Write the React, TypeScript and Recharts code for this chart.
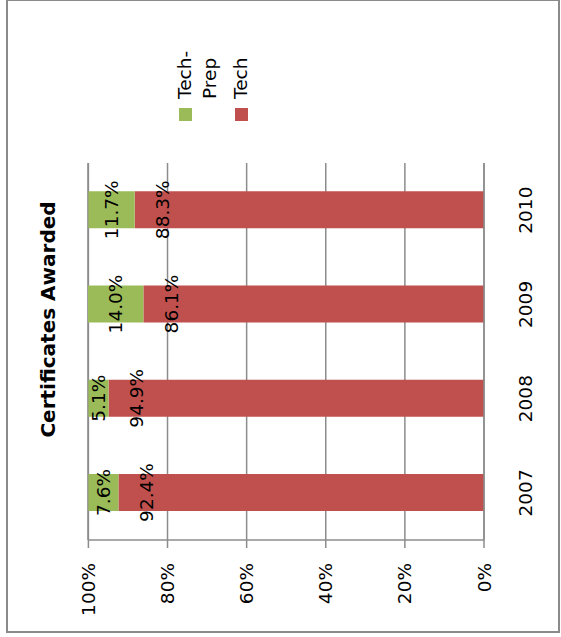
import React from 'react';
import { Bar, BarChart, CartesianGrid, LabelList, Legend, XAxis, YAxis } from 'recharts';

const years = ['2007', '2008', '2009', '2010'];
const techPrep = [7.6, 5.1, 14.0, 11.7];
const tech = [92.4, 94.9, 86.1, 88.3];
const valueTicks = [0, 20, 40, 60, 80, 100];
const seriesNames = ['Tech-Prep', 'Tech'];
const seriesColors = ['#9BBB59', '#C0504D'];

const FONT = "'DejaVu Sans', Verdana, sans-serif";
const GRID = '#8c8c8c';

const data = years.map((year, i) => ({
  year,
  techPrep: techPrep[i],
  tech: tech[i],
}));

const pct = (v: any) => `${Number(v).toFixed(1)}%`;

const renderLegend = () => (
  <div style={{ fontFamily: FONT, fontSize: 18.5, lineHeight: '25px', color: '#000' }}>
    {seriesNames.map((name, i) => (
      <div key={name} style={{ display: 'flex', alignItems: 'flex-start', marginTop: i ? 6 : 0 }}>
        <span
          style={{ width: 13, height: 13, background: seriesColors[i], marginTop: 7, marginRight: 9, flex: 'none' }}
        />
        <span style={{ whiteSpace: 'pre-line' }}>{name.replace('-', '-\n')}</span>
      </div>
    ))}
  </div>
);

export default function App() {
  return (
    <div style={{ position: 'fixed', left: 0, top: 0, width: 561, height: 637, background: '#fff', overflow: 'hidden' }}>
      {/* chart is drawn upright, then turned a quarter turn counter-clockwise */}
      <div
        style={{
          position: 'absolute',
          left: 0,
          top: 0,
          width: 637,
          height: 561,
          transformOrigin: '0 0',
          transform: 'translate(0px, 637px) rotate(-90deg)',
        }}
      >
        <div
          style={{
            position: 'absolute',
            left: 0,
            top: 38,
            width: 635,
            textAlign: 'center',
            fontFamily: FONT,
            fontWeight: 'bold',
            fontSize: 20,
            lineHeight: '20px',
            color: '#000',
          }}
        >
          Certificates Awarded
        </div>
        <BarChart
          width={637}
          height={561}
          data={data}
          margin={{ top: 88, right: 163, bottom: 0, left: 0 }}
          barSize={37}
        >
          <CartesianGrid vertical={false} stroke={GRID} strokeWidth={1.5} />
          <XAxis
            dataKey="year"
            height={77}
            tickLine={false}
            tickSize={0}
            tickMargin={35}
            axisLine={{ stroke: GRID, strokeWidth: 1.5 }}
            tick={{ fill: '#000', fontSize: 18.5, fontFamily: FONT }}
          />
          <YAxis
            width={97}
            domain={[0, 100]}
            ticks={valueTicks}
            tickFormatter={(v) => `${v}%`}
            tickSize={8}
            tickMargin={15}
            axisLine={{ stroke: GRID, strokeWidth: 1.5 }}
            tickLine={{ stroke: GRID, strokeWidth: 1.5 }}
            tick={{ fill: '#000', fontSize: 18.5, fontFamily: FONT }}
            interval={0}
          />
          <Legend
            layout="horizontal"
            verticalAlign="middle"
            align="center"
            wrapperStyle={{ left: 516, top: 172, width: 115, height: 80, margin: 0 }}
            content={renderLegend}
          />
          <Bar dataKey="tech" name={seriesNames[1]} stackId="a" fill={seriesColors[1]} isAnimationActive={false}>
            <LabelList
              dataKey="tech"
              position="insideTop"
              offset={21}
              formatter={pct}
              fill="#000"
              fontSize={18.5}
              fontFamily={FONT}
            />
          </Bar>
          <Bar dataKey="techPrep" name={seriesNames[0]} stackId="a" fill={seriesColors[0]} isAnimationActive={false}>
            <LabelList
              dataKey="techPrep"
              position="center"
              formatter={pct}
              fill="#000"
              fontSize={18.5}
              fontFamily={FONT}
            />
          </Bar>
        </BarChart>
      </div>
      <div
        style={{
          position: 'absolute',
          left: 6,
          top: 0,
          width: 554,
          height: 633,
          boxSizing: 'border-box',
          border: '2px solid #8a8a8a',
          borderTopWidth: 1,
          pointerEvents: 'none',
        }}
      />
    </div>
  );
}
